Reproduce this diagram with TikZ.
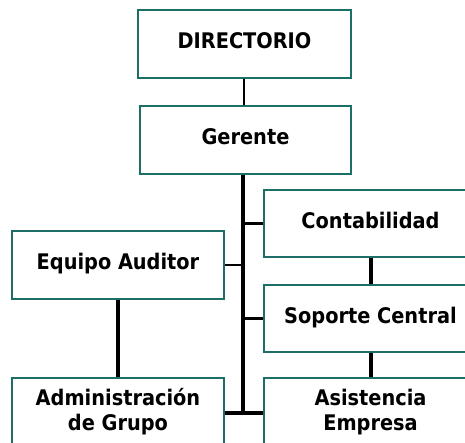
\documentclass[tikz,border=0pt]{standalone}
\usepackage{fontspec}
\newfontfamily\boxfont{DejaVu Sans Condensed Bold}
\definecolor{boxteal}{RGB}{30,110,104}
\begin{document}
\begin{tikzpicture}[x=1pt,y=-1pt,
  orgbox/.style={draw=boxteal, line width=1.6pt, fill=white, inner sep=0pt,
    font=\boxfont\fontsize{21.5}{25}\selectfont, align=center},
  oneline/.style={text height=15.7pt, text depth=6pt},
  thinlink/.style={line width=2.2pt},
  midlink/.style={line width=2.8pt},
  thicklink/.style={line width=4pt}]
\useasboundingbox (0,0) rectangle (465,443);
\clip (0,0) rectangle (465,443);
\node[orgbox, oneline, minimum width=213pt, minimum height=68pt] (dir) at (244.5,44) {DIRECTORIO};
\node[orgbox, oneline, minimum width=211pt, minimum height=68pt] (ger) at (245.5,140) {Gerente};
\node[orgbox, oneline, minimum width=213pt, minimum height=67pt] (con) at (370.5,223.5) {Contabilidad};
\node[orgbox, oneline, minimum width=212pt, minimum height=68pt] (eq) at (118,265) {Equipo Auditor};
\node[orgbox, oneline, minimum width=213pt, minimum height=67pt] (sop) at (370.5,318.5) {Soporte Central};
\node[orgbox, minimum width=213pt, minimum height=68pt] (asi) at (370.5,412) {Asistencia\\Empresa};
\node[orgbox, minimum width=212pt, minimum height=68pt] (adm) at (118,412) {Administración\\de Grupo};
\coordinate (tb) at (243,413);
\draw[thinlink] (dir.south -| 244,0) -- (244,0 |- ger.north);
\draw[thicklink] (tb |- ger.south) -- (tb);
\draw[midlink] (tb |- con.west) -- (con.west);
\draw[midlink] (tb |- sop.west) -- (sop.west);
\draw[midlink] (eq.east) -- (eq.east -| tb);
\draw[thicklink] (tb -| adm.east) -- (tb -| asi.west);
\draw[thicklink] (con.south) -- (sop.north);
\draw[thicklink] (sop.south) -- (asi.north);
\draw[thicklink] (eq.south) -- (adm.north);
\end{tikzpicture}
\end{document}
